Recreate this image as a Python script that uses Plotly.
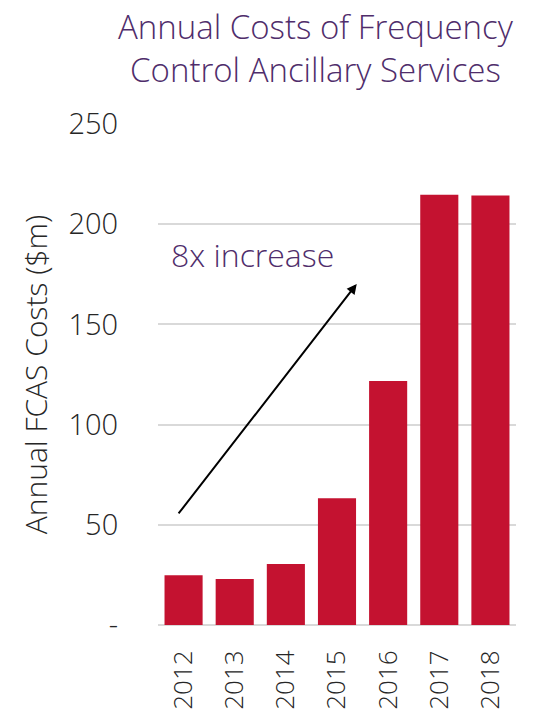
import plotly.graph_objects as go

years = ["2012", "2013", "2014", "2015", "2016", "2017", "2018"]
costs = [24.8, 23.0, 30.5, 63.2, 121.7, 214.7, 214.3]
ytick_vals = [0, 50, 100, 150, 200, 250]
ytick_text = ["-", "50", "100", "150", "200", "250"]

FONT = "Open Sans"
W = 300
BAR = "#C41230"
PURPLE = "#4F2D6B"
TXT = "#262626"

fig = go.Figure(go.Bar(x=years, y=costs, marker=dict(color=BAR, line=dict(width=0))))

fig.add_annotation(x=3.386, y=170.2, ax=-0.12, ay=54.9, xref="x", yref="y", axref="x", ayref="y",
                   text="", showarrow=True, arrowhead=2, arrowsize=1, arrowwidth=2, arrowcolor="black")
fig.add_annotation(x=-0.29, y=185, xref="x", yref="y", xanchor="left", yanchor="middle",
                   text="8x increase", showarrow=False,
                   font=dict(family=FONT, size=32, color=PURPLE, weight=W))
fig.add_annotation(x=0.441, y=1 + (124 - 2) / 501, xref="paper", yref="paper",
                   xanchor="center", yanchor="top", showarrow=False,
                   text="Annual Costs of Frequency<br>Control Ancillary Services",
                   font=dict(family=FONT, size=33, color=PURPLE, weight=W))

fig.update_layout(
    width=538, height=711,
    margin=dict(l=158, r=22, t=124, b=86),
    paper_bgcolor="white", plot_bgcolor="white",
    bargap=0.255,
    showlegend=False,
    font=dict(family=FONT, color=TXT, weight=W),
)
fig.update_xaxes(type="category", showgrid=False, showline=False, zeroline=False, automargin=False,
                 tickangle=-90, tickfont=dict(family=FONT, size=26, color=TXT, weight=W),
                 ticks="outside", ticklen=14, tickcolor="rgba(0,0,0,0)")
fig.update_yaxes(range=[0, 250], tickvals=ytick_vals, ticktext=ytick_text, automargin=False,
                 showgrid=True, gridcolor="#D9D9D9", gridwidth=1.5, zeroline=True, zerolinecolor="#D9D9D9",
                 zerolinewidth=1.5, showline=False,
                 tickfont=dict(family=FONT, size=29, color=TXT, weight=W),
                 ticks="outside", ticklen=33, tickcolor="rgba(0,0,0,0)",
                 title=dict(text="Annual FCAS Costs ($m)", standoff=12,
                            font=dict(family=FONT, size=30, color=TXT, weight=W)))

fig.write_html("out.html")
